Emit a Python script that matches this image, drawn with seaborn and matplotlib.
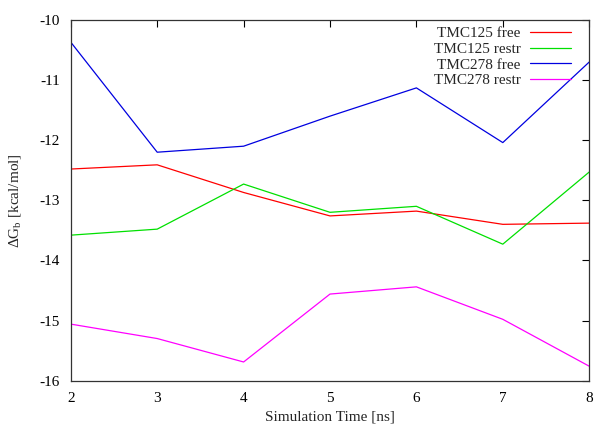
import pandas as pd
import matplotlib
matplotlib.use("Agg")
import matplotlib.pyplot as plt
import seaborn as sns

# Datos
tiempo = [2, 3, 4, 5, 6, 7, 8]
tmc125_free = [-12.48, -12.41, -12.87, -13.26, -13.18, -13.40, -13.38]
tmc125_restr = [-13.58, -13.48, -12.73, -13.20, -13.10, -13.73, -12.53]
tmc278_free = [-10.37, -12.20, -12.10, -11.60, -11.13, -12.04, -10.70]
tmc278_restr = [-15.06, -15.30, -15.69, -14.56, -14.44, -14.98, -15.76]

series = {
    "TMC125 free": tmc125_free,
    "TMC125 restr": tmc125_restr,
    "TMC278 free": tmc278_free,
    "TMC278 restr": tmc278_restr,
}
colores = ["#ff0000", "#00e000", "#0000e0", "#ff00ff"]

df = pd.concat(
    [pd.DataFrame({"t": tiempo, "dG": v, "serie": k}) for k, v in series.items()],
    ignore_index=True,
)

sns.set_theme(style="white")
plt.rcParams["font.family"] = ["Liberation Serif", "DejaVu Serif"]
plt.rcParams["mathtext.fontset"] = "custom"
plt.rcParams["mathtext.rm"] = "Liberation Serif"
plt.rcParams["mathtext.it"] = "Liberation Serif:italic"
plt.rcParams["axes.unicode_minus"] = False

fig = plt.figure(figsize=(6.0, 4.34), dpi=100)
ax = fig.add_axes([0.118, 0.123, 0.864, 0.831])

sns.lineplot(data=df, x="t", y="dG", hue="serie", palette=colores,
             linewidth=0.9, ax=ax)

ax.set_xlim(2, 8)
ax.set_ylim(-16, -10)
ax.set_xticks(tiempo)
ax.set_yticks([-16, -15, -14, -13, -12, -11, -10])
ax.set_xlabel("Simulation Time [ns]", fontsize=11)
ax.set_ylabel(r"$\Delta$G$_\mathrm{b}$ [kcal/mol]", fontsize=11, labelpad=12)

ax.tick_params(direction="in", top=True, right=True, length=5, width=0.8,
               labelsize=11, colors="black", pad=8)
for s in ax.spines.values():
    s.set_color("#333333")
    s.set_linewidth(0.9)

ax.legend(loc="upper right", bbox_to_anchor=(0.977, 0.998), frameon=False,
          markerfirst=False, fontsize=11, labelspacing=0.12, handlelength=2.7,
          handletextpad=0.6, borderaxespad=0)

fig.savefig("out.png", dpi=100)
